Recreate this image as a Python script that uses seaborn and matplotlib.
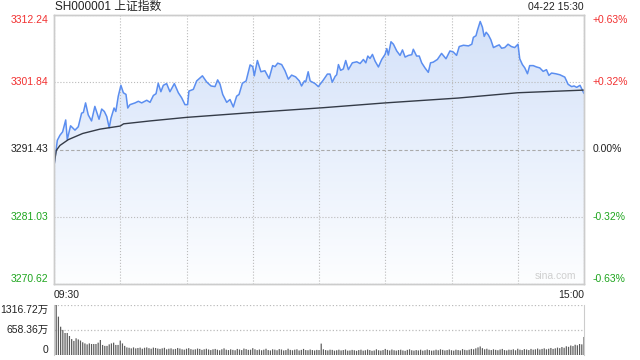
import numpy as np
import pandas as pd
import matplotlib
matplotlib.use("Agg")
import matplotlib.pyplot as plt
import seaborn as sns
from matplotlib.colors import LinearSegmentedColormap

# price line, minute index (0 = 09:30, 120 = 11:30/13:00, 240 = 15:00)
price_min = [0, 1.5, 2.7, 3.9, 5.3, 6, 7.5, 9.5, 11, 12.5, 13.3, 14.3, 15.5, 17, 18.5,
             20.4, 21.6, 22.8, 23.9, 25, 25.8, 27.2, 28, 29.1, 30.3, 31.4, 32.6, 33.4,
             34.4, 36.7, 38.2, 39.7, 42, 43.5, 45, 46.2, 47.2, 48.4, 49.5, 51, 52.5,
             54.5, 56.3, 57.8, 59.3, 60.5, 61.1, 63.1, 64.6, 67.2, 69.1, 71.1, 72.9,
             74.1, 75.2, 76.4, 78.2, 79.7, 81.2, 82.7, 83.8, 85.3, 87, 88.8, 90, 90.7,
             92.1, 93.7, 95.5, 97.4, 99, 100.1, 101.3, 103.1, 104.6, 106.1, 107.6,
             109.4, 111.1, 112.1, 113.4, 114, 115.1, 116, 118.2, 119.7, 120.5, 122,
             123.8, 125, 126, 127.3, 128, 128.8, 129.8, 131, 132.1, 133.3, 135.1,
             137.1, 138.6, 140.1, 141.2, 142.1, 143.1, 144.2, 145.4, 146.9, 148.4,
             149.9, 150.7, 151.4, 152.6, 153.7, 155.2, 156.7, 157.8, 159, 160.5, 162,
             162.7, 164.2, 165.4, 166.5, 168, 169.5, 170.5, 171.7, 173.6, 175.5, 177.5,
             179.3, 180.8, 182.3, 183.5, 185.4, 187.7, 189.2, 189.9, 191.1, 191.7, 193,
             194, 194.8, 195.7, 196.7, 197.8, 199, 200.5, 201.6, 202.7, 204.1, 205.6,
             207.1, 208.6, 210.1, 210.9, 212.1, 213.2, 214.4, 215.4, 217, 218.5, 220,
             221.5, 223, 224.1, 225.3, 227.2, 229.1, 231.3, 232.8, 234.4, 235.5, 236.7,
             238.2, 240]
price_val = [3288.91, 3292.85, 3293.64, 3294.16, 3296.00, 3292.96, 3295.10, 3294.43,
             3294.95, 3297.06, 3297.16, 3298.64, 3296.79, 3295.85, 3298.10, 3296.11,
             3297.69, 3297.31, 3296.52, 3294.79, 3296.27, 3297.85, 3297.31, 3299.68,
             3301.36, 3300.21, 3299.95, 3297.85, 3298.37, 3298.64, 3298.89, 3298.64,
             3299.05, 3298.73, 3299.79, 3300.06, 3301.68, 3300.37, 3301.36, 3301.63,
             3300.37, 3301.63, 3300.21, 3299.43, 3298.37, 3298.37, 3300.47, 3300.74,
             3302.04, 3302.83, 3301.89, 3301.26, 3301.16, 3302.20, 3301.52, 3299.95,
             3298.73, 3299.16, 3298.01, 3299.68, 3299.95, 3301.68, 3302.04, 3304.52,
             3304.25, 3302.83, 3305.20, 3303.46, 3303.62, 3302.42, 3304.41, 3304.25,
             3304.79, 3304.57, 3303.62, 3302.31, 3302.94, 3302.67, 3302.04, 3301.26,
             3302.04, 3301.90, 3303.46, 3302.04, 3301.63, 3301.16, 3301.52, 3302.20,
             3303.10, 3303.10, 3301.84, 3302.74, 3302.99, 3304.57, 3303.68, 3303.89,
             3305.20, 3303.79, 3304.84, 3305.00, 3304.73, 3305.36, 3304.84, 3305.89,
             3305.52, 3306.14, 3305.10, 3304.20, 3305.36, 3306.14, 3307.04, 3306.04,
             3308.10, 3307.72, 3306.68, 3305.99, 3306.84, 3305.73, 3305.99, 3306.10,
             3306.94, 3305.89, 3305.89, 3304.84, 3304.05, 3303.37, 3304.84, 3304.94,
             3305.36, 3306.30, 3305.47, 3306.68, 3306.52, 3305.99, 3307.36, 3307.56,
             3307.46, 3307.72, 3308.78, 3309.04, 3309.82, 3311.24, 3310.35, 3308.93,
             3309.57, 3309.15, 3308.42, 3307.20, 3307.46, 3307.62, 3307.10, 3307.20,
             3307.72, 3307.36, 3307.20, 3307.72, 3305.47, 3304.57, 3304.05, 3303.15,
             3304.41, 3304.41, 3304.20, 3304.05, 3303.52, 3303.78, 3302.90, 3303.26,
             3303.15, 3302.99, 3302.63, 3301.52, 3301.16, 3301.26, 3301.05, 3301.36,
             3300.10]

# average price line
avg_min = [0, 1, 2.7, 6.5, 13, 20.8, 30, 31.5, 43.5, 60, 90, 122, 150, 183, 210, 240]
avg_val = [3288.91, 3291.27, 3292.06, 3292.96, 3293.91, 3294.58, 3295.06, 3295.40,
           3295.85, 3296.40, 3297.15, 3297.90, 3298.64, 3299.39, 3300.21, 3300.62]

# volume per minute, in 万
volume = [420, 1316, 1010, 745, 660, 580, 580, 500, 420, 370,
          440, 410, 380, 335, 305, 280, 305, 290, 290, 290,
          325, 395, 265, 240, 240, 280, 305, 325, 265, 265,
          380, 305, 240, 200, 190, 175, 200, 175, 185, 195,
          165, 190, 200, 180, 165, 195, 185, 170, 160, 175,
          190, 150, 165, 175, 150, 160, 185, 170, 150, 140,
          165, 180, 155, 140, 150, 170, 160, 135, 150, 165,
          145, 130, 150, 160, 140, 125, 150, 175, 140, 130,
          150, 135, 125, 160, 145, 130, 170, 155, 135, 140,
          180, 150, 130, 145, 125, 140, 165, 130, 120, 150,
          140, 125, 155, 145, 120, 130, 165, 135, 125, 140,
          150, 120, 135, 160, 130, 125, 145, 130, 120, 135,
          130, 300, 150, 130, 120, 140, 135, 115, 125, 140,
          120, 130, 145, 115, 120, 135, 125, 110, 130, 140,
          115, 125, 145, 130, 110, 120, 150, 125, 115, 130,
          160, 135, 120, 145, 125, 115, 130, 140, 120, 110,
          135, 150, 125, 115, 130, 120, 140, 115, 125, 145,
          130, 115, 120, 140, 125, 150, 135, 120, 130, 145,
          125, 115, 140, 130, 120, 155, 135, 125, 140, 160,
          150, 175, 200, 225, 180, 150, 165, 140, 130, 150,
          135, 125, 145, 160, 130, 120, 140, 135, 150, 125,
          165, 140, 130, 155, 145, 130, 160, 140, 150, 170,
          145, 160, 175, 150, 165, 185, 160, 175, 195, 180,
          210, 190, 230, 215, 250, 235, 270, 255, 290, 280,
          475]

prev_close = 3291.43
price_ticks = [3270.62, 3281.03, 3291.43, 3301.84, 3312.24]
vol_ticks = [0, 658.36, 1316.72]
vol_labels = ["0", "658.36万", "1316.72万"]

RED = "#f23030"
GREEN = "#1ea51e"
BLACK = "#222222"
GRID = "#bbbbbb"
SPINE = "#cccccc"

sns.set_style("white")
plt.rcParams["font.family"] = ["Liberation Sans", "Noto Sans CJK SC", "DejaVu Sans"]

fig = plt.figure(figsize=(6.4, 3.6), dpi=100)
ax = fig.add_axes([54 / 640, 1 - 284 / 360, 530 / 640, 269 / 360])
axv = fig.add_axes([54 / 640, 1 - 355 / 360, 530 / 640, 50 / 360])

y_lo, y_hi = price_ticks[0], price_ticks[-1]

# gradient fill under the price line
fill = ax.fill_between(price_min, price_val, y_lo, color="none", lw=0)
grad = np.linspace(0, 1, 256).reshape(-1, 1)
cmap = LinearSegmentedColormap.from_list("g", ["#fdfeff", "#d3e1f9"])
im = ax.imshow(grad, extent=[0, 240, y_lo, y_hi], origin="lower", aspect="auto",
               cmap=cmap, zorder=0)
im.set_clip_path(fill.get_paths()[0], transform=ax.transData)

df_price = pd.DataFrame({"minute": price_min, "price": price_val})
df_avg = pd.DataFrame({"minute": avg_min, "avg": avg_val})
sns.lineplot(data=df_price, x="minute", y="price", ax=ax, color="#5b8ef0", lw=1.1)
sns.lineplot(data=df_avg, x="minute", y="avg", ax=ax, color="#343b47", lw=1.0)

ax.set_xlim(0, 240)
ax.set_ylim(y_lo, y_hi)
ax.set_xlabel("")
ax.set_ylabel("")
ax.set_xticks(range(0, 241, 30))
ax.set_xticklabels(["09:30"] + [""] * 7 + ["15:00"], fontsize=7.5, color=BLACK)
xl = ax.get_xticklabels()
xl[0].set_ha("left")
xl[-1].set_ha("right")
ax.tick_params(axis="both", length=0, pad=4)
ax.set_yticks(price_ticks)
ax.set_yticklabels([f"{t:.2f}" for t in price_ticks], fontsize=7.5)
ax.grid(True, color=GRID, ls=":", lw=0.8)
ax.get_ygridlines()[2].set_linestyle((0, (3, 2)))
ax.get_ygridlines()[2].set_color("#aaaaaa")

cols = [GREEN, GREEN, BLACK, RED, RED]
vas = ["bottom", "center", "center", "center", "top"]
for lab, c, va in zip(ax.get_yticklabels(), cols, vas):
    lab.set_color(c)
    lab.set_va(va)

ax2 = ax.twinx()
ax2.set_ylim(y_lo, y_hi)
ax2.set_yticks(price_ticks)
pct = [(t / prev_close - 1) * 100 for t in price_ticks]
ax2.set_yticklabels([f"{p:+.2f}%" if abs(p) > 0.005 else "0.00%" for p in pct], fontsize=7.5)
ax2.tick_params(axis="y", length=0, pad=6)
for lab, c, va in zip(ax2.get_yticklabels(), cols, vas):
    lab.set_color(c)
    lab.set_va(va)

for a in (ax, ax2):
    for s in a.spines.values():
        s.set_color(SPINE)
        s.set_linewidth(1)

ax.text(0.985, 0.012, "sina.com", transform=ax.transAxes, ha="right", va="bottom",
        fontsize=7.5, color="#cfcfcf")

# volume panel
df_vol = pd.DataFrame({"minute": np.arange(len(volume)), "vol": volume})
sns.barplot(data=df_vol, x="minute", y="vol", ax=axv, native_scale=True,
            color="#5a5a5a", width=0.55, saturation=1, linewidth=0)
for p in axv.patches:
    p.set_snap(False)
    p.set_antialiased(True)
axv.set_xlim(0, 240)
axv.set_ylim(0, 1316.72)
axv.set_xlabel("")
axv.set_ylabel("")
axv.set_xticks([])
axv.set_yticks(vol_ticks)
axv.set_yticklabels(vol_labels, fontsize=7.5, color=BLACK)
for lab, va in zip(axv.get_yticklabels(), ["bottom", "center", "top"]):
    lab.set_va(va)
axv.tick_params(axis="y", length=0, pad=4)
axv.grid(True, axis="y", color=GRID, ls=":", lw=0.9)
axv.spines["top"].set_visible(False)
axv.spines["bottom"].set_visible(False)
for s in ("left", "right"):
    axv.spines[s].set_color(SPINE)

fig.text(55 / 640, 1 - 7 / 360, "SH000001 上证指数", ha="left", va="center",
         fontsize=8.5, color=BLACK)
fig.text(584 / 640, 1 - 7 / 360, "04-22 15:30", ha="right", va="center",
         fontsize=7.5, color=BLACK)

fig.savefig("out.png", dpi=100)
